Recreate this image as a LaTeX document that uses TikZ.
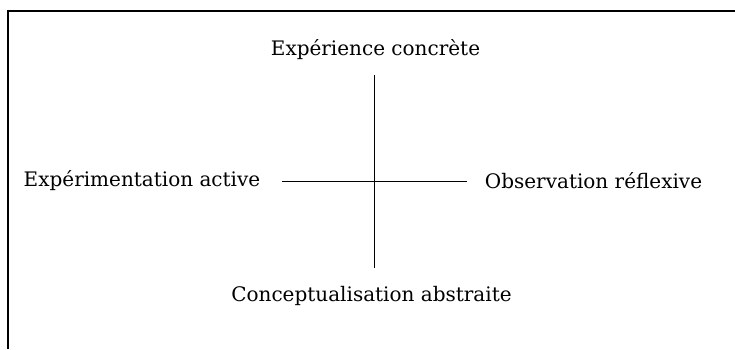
\documentclass[tikz,border=0pt]{standalone}
\usepackage{fontspec}
\setmainfont{DejaVu Serif}

\begin{document}
\begin{tikzpicture}[x=1pt,y=-1pt]
  \tikzstyle{pole}=[font=\fontsize{20}{24}\selectfont,inner sep=0pt]
  \tikzstyle{axis}=[line width=1pt]
  \useasboundingbox (0,0) rectangle (735,349);
  \draw[line width=1.2pt] (8,349) -- (8,11) -- (735,11);

  \node[pole] (EC) at (375.5,50) {Expérience concrète};
  \node[pole] (EA) at (142,181) {Expérimentation active};
  \node[pole] (OR) at (593.5,181) {Observation réflexive};
  \node[pole] (CA) at (371.5,296) {Conceptualisation abstraite};

  \coordinate (N) at (374,75);
  \coordinate (S) at (374,268);
  \coordinate (W) at (282,181);
  \coordinate (E) at (467,181);

  \draw[axis] (N) -- (S);
  \draw[axis] (W) -- (E);
\end{tikzpicture}
\end{document}
